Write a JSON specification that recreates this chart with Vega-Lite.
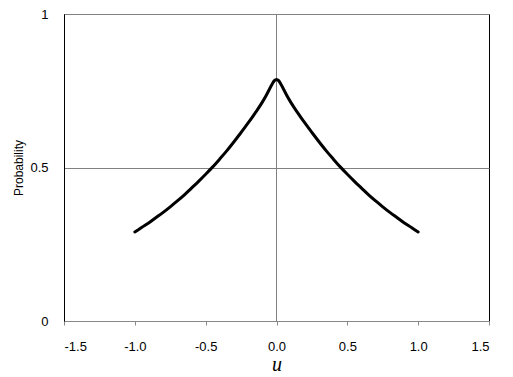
{
  "$schema": "https://vega.github.io/schema/vega-lite/v6.json",
  "autosize": {"type": "none"},
  "width": 425,
  "height": 307,
  "padding": {"left": 64, "top": 14, "right": 24, "bottom": 56},
  "background": "white",
  "config": {
    "view": {"stroke": "#000", "strokeWidth": 1},
    "axis": {"labelFont": "Liberation Sans", "labelFontSize": 13, "labelColor": "#000", "titleColor": "#000"}
  },
  "datasets": {
    "curve": [
      {"u": -1.0, "p": 0.290}, {"u": -0.95, "p": 0.305}, {"u": -0.9, "p": 0.320}, {"u": -0.85, "p": 0.337},
      {"u": -0.8, "p": 0.354}, {"u": -0.75, "p": 0.372}, {"u": -0.7, "p": 0.391}, {"u": -0.65, "p": 0.411},
      {"u": -0.6, "p": 0.433}, {"u": -0.55, "p": 0.455}, {"u": -0.5, "p": 0.478}, {"u": -0.45, "p": 0.502},
      {"u": -0.4, "p": 0.528}, {"u": -0.35, "p": 0.555}, {"u": -0.3, "p": 0.584}, {"u": -0.25, "p": 0.614},
      {"u": -0.2, "p": 0.645}, {"u": -0.15, "p": 0.678}, {"u": -0.1, "p": 0.713}, {"u": -0.07, "p": 0.737},
      {"u": -0.05, "p": 0.755}, {"u": -0.03, "p": 0.772}, {"u": -0.015, "p": 0.783}, {"u": 0.0, "p": 0.787},
      {"u": 0.015, "p": 0.783}, {"u": 0.03, "p": 0.772}, {"u": 0.05, "p": 0.755}, {"u": 0.07, "p": 0.737},
      {"u": 0.1, "p": 0.713}, {"u": 0.15, "p": 0.678}, {"u": 0.2, "p": 0.645}, {"u": 0.25, "p": 0.614},
      {"u": 0.3, "p": 0.584}, {"u": 0.35, "p": 0.555}, {"u": 0.4, "p": 0.528}, {"u": 0.45, "p": 0.502},
      {"u": 0.5, "p": 0.478}, {"u": 0.55, "p": 0.455}, {"u": 0.6, "p": 0.433}, {"u": 0.65, "p": 0.411},
      {"u": 0.7, "p": 0.391}, {"u": 0.75, "p": 0.372}, {"u": 0.8, "p": 0.354}, {"u": 0.85, "p": 0.337},
      {"u": 0.9, "p": 0.320}, {"u": 0.95, "p": 0.305}, {"u": 1.0, "p": 0.290}
    ],
    "vline": [{"u": 0}]
  },
  "layer": [
    {
      "data": {"name": "vline"},
      "mark": {"type": "rule", "color": "#808080", "strokeWidth": 1},
      "encoding": {
        "x": {"field": "u", "type": "quantitative", "scale": {"domain": [-1.5, 1.5], "nice": false}}
      }
    },
    {
      "data": {"name": "curve"},
      "mark": {"type": "line", "color": "#000", "strokeWidth": 3, "interpolate": "monotone", "strokeCap": "round"},
      "encoding": {
        "x": {
          "field": "u", "type": "quantitative",
          "scale": {"domain": [-1.5, 1.5], "nice": false, "zero": false},
          "axis": {
            "title": "u", "titleFont": "Liberation Serif", "titleFontStyle": "italic", "titleFontWeight": "normal",
            "titleFontSize": 20, "titlePadding": 1,
            "values": [-1.5, -1.0, -0.5, 0, 0.5, 1.0, 1.5],
            "labelExpr": "(datum.value < 0 ? '-' : '') + format(abs(datum.value), '.1f')",
            "grid": false, "domainColor": "#888", "tickColor": "#888", "tickSize": 4, "labelPadding": 15
          }
        },
        "y": {
          "field": "p", "type": "quantitative",
          "scale": {"domain": [0, 1], "nice": false},
          "axis": {
            "title": "Probability", "titleFont": "Liberation Sans", "titleFontSize": 12, "titleFontWeight": "normal",
            "titlePadding": 4,
            "values": [0, 0.5, 1], "format": "~g",
            "grid": true, "gridColor": "#808080", "gridWidth": 1,
            "ticks": false, "domainColor": "#000", "labelPadding": 16
          }
        }
      }
    }
  ]
}
